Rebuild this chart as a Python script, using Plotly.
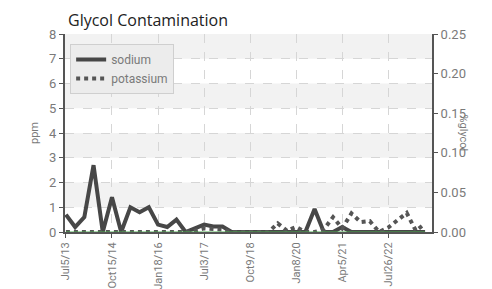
import plotly.graph_objects as go

sample_idx = list(range(40))
tick_idx = [0, 5, 10, 15, 20, 25, 30, 35]
tick_labels = ["Jul5/13", "Oct15/14", "Jan18/16", "Jul3/17", "Oct9/18", "Jan8/20", "Apr5/21", "Jul26/22"]

sodium = [0.7, 0.2, 0.6, 2.7, 0.0, 1.4, 0.0, 1.0, 0.8, 1.0,
          0.3, 0.2, 0.5, 0.0, 0.15, 0.3, 0.22, 0.22, 0.0, 0.0,
          0.0, 0.0, 0.0, 0.0, 0.0, 0.0, 0.0, 0.93, 0.0, 0.0,
          0.2, 0.0, 0.0, 0.0, 0.0, 0.0, 0.0, 0.0, 0.0, 0.0]
potassium = [0.0, 0.0, 0.0, 0.0, 0.0, 0.0, 0.0, 0.0, 0.0, 0.0,
             0.0, 0.0, 0.0, 0.0, 0.05, 0.15, 0.12, 0.1, 0.0, 0.0,
             0.0, 0.0, 0.0, 0.35, 0.05, 0.2, 0.0, 0.0, 0.1, 0.6,
             0.15, 0.75, 0.4, 0.44, 0.0, 0.18, 0.45, 0.77, 0.05, 0.34]
glycol = [0.0] * 40

FONT = "Roboto, sans-serif"
AX = "#555555"
TXT = "#7a7a7a"

fig = go.Figure()
fig.add_trace(go.Scatter(x=sample_idx, y=glycol, yaxis="y2", mode="lines",
                         line=dict(color="#4caf50", width=1), showlegend=False,
                         hoverinfo="skip"))
fig.add_trace(go.Scatter(x=sample_idx, y=sodium, name="sodium", mode="lines",
                         line=dict(color="#474747", width=4)))
fig.add_trace(go.Scatter(x=sample_idx, y=potassium, name="potassium", mode="lines",
                         line=dict(color="#555555", width=4, dash="dot")))

shapes = []
for lo in [1, 3, 5, 7]:
    shapes.append(dict(type="rect", xref="paper", yref="y", x0=0, x1=1, y0=lo, y1=lo + 1,
                       fillcolor="#f2f2f2", line=dict(width=0), layer="below"))

W, H = 484, 281
fig.update_layout(
    width=W, height=H,
    margin=dict(l=57, r=60, t=26, b=57),
    paper_bgcolor="white", plot_bgcolor="white",
    shapes=shapes,
    title=dict(text="Glycol Contamination", x=60 / W, xref="container", xanchor="left",
               y=1 - 12 / H, yref="container", yanchor="middle",
               font=dict(family="Open Sans, sans-serif", size=16, color="#222222")),
    xaxis=dict(range=[-0.1, 39.75], tickmode="array", tickvals=tick_idx, ticktext=tick_labels,
               tickangle=-90, ticks="outside", ticklen=4, tickcolor=AX, automargin=False,
               showline=True, linecolor=AX, linewidth=2,
               showgrid=True, gridcolor="#d6d6d6", griddash="dash", gridwidth=1,
               zeroline=False, tickfont=dict(family=FONT, size=11, color=TXT)),
    yaxis=dict(range=[0, 8], dtick=1, ticks="outside", ticklen=4, tickcolor=AX, automargin=False,
               showline=True, linecolor=AX, linewidth=2,
               showgrid=True, gridcolor="#d6d6d6", griddash="dash", gridwidth=1,
               zeroline=False, tickfont=dict(family=FONT, size=13, color=TXT),
               title=dict(text="ppm", font=dict(family=FONT, size=11, color=TXT), standoff=8)),
    yaxis2=dict(range=[0, 0.25], dtick=0.05, tickformat=".2f", overlaying="y", side="right",
                ticks="outside", ticklen=4, tickcolor=AX, showline=True, linecolor=AX, linewidth=2,
                automargin=False,
                showgrid=False, zeroline=False, tickfont=dict(family=FONT, size=13, color=TXT)),
    legend=dict(x=0.014, y=0.95, xanchor="left", yanchor="top",
                bgcolor="#ececec", bordercolor="#cfcfcf", borderwidth=1,
                font=dict(family=FONT, size=12, color=TXT),
                tracegroupgap=0),
    annotations=[dict(text="%glycol", xref="paper", yref="paper", x=1.109, y=0.5,
                      textangle=90, showarrow=False,
                      font=dict(family=FONT, size=11, color=TXT))],
)

fig.write_html("out.html")
